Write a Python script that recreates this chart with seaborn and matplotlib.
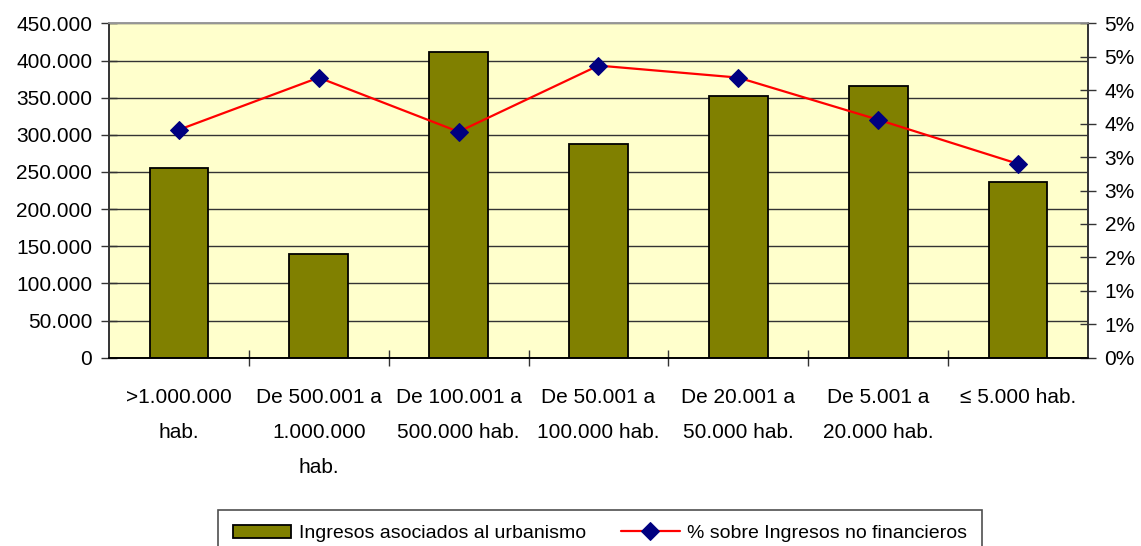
import math
import numpy as np
import pandas as pd
import seaborn as sns
import matplotlib.pyplot as plt
from matplotlib.ticker import FixedLocator, FuncFormatter

categorias = [">1.000.000\nhab.", "De 500.001 a\n1.000.000\nhab.", "De 100.001 a\n500.000 hab.",
              "De 50.001 a\n100.000 hab.", "De 20.001 a\n50.000 hab.", "De 5.001 a\n20.000 hab.",
              "\u2264 5.000 hab."]
ingresos = [256000, 140000, 412000, 288000, 353000, 366000, 237000]
porcentaje = [3.41, 4.19, 3.38, 4.37, 4.19, 3.56, 2.90]

sns.set_theme(style="white")
plt.rcParams['font.family'] = ['Liberation Sans', 'DejaVu Sans']
plt.rcParams['text.color'] = 'black'
plt.rcParams['xtick.color'] = 'black'
plt.rcParams['ytick.color'] = 'black'

df = pd.DataFrame({'cat': categorias, 'ingresos': ingresos, 'pct': porcentaje})

fig = plt.figure(figsize=(11.41, 5.46), dpi=100)
ax = fig.add_axes([0.0955, 0.345, 0.858, 0.612])
ax.set_facecolor('#FFFFCC')

sns.barplot(data=df, x='cat', y='ingresos', color='#808000', width=0.42,
            edgecolor='black', linewidth=1.3, saturation=1, ax=ax)
ax.set_xlim(-0.5, 6.5)
ax.set_ylim(0, 450000)
ax.set_yticks(np.arange(0, 450001, 50000))
ax.yaxis.set_major_formatter(FuncFormatter(lambda v, p: f"{int(v):,}".replace(',', '.')))
ax.yaxis.grid(True, color='#333333', linewidth=1.0)
ax.set_axisbelow(True)
ax.set_xlabel('')
ax.set_ylabel('')
ax.tick_params(axis='y', direction='inout', length=12, width=1, color='#333333',
               labelsize=15, pad=6, left=True, labelcolor='black')
ax.tick_params(axis='x', which='major', length=0, labelsize=15, pad=22, labelcolor='black')
ax.xaxis.set_minor_locator(FixedLocator(np.arange(0.5, 6.5, 1)))
ax.tick_params(axis='x', which='minor', direction='inout', length=12, width=1,
               color='#333333', bottom=True)
for t in ax.get_xticklabels():
    t.set_linespacing(2.05)

ax2 = ax.twinx()
sns.lineplot(x=np.arange(len(porcentaje)), y=porcentaje, color='red', linewidth=1.6,
             marker='D', markersize=9, markerfacecolor='#000080', markeredgecolor='#000080',
             ax=ax2, legend=False)
ax2.set_ylim(0, 5)
ax2.set_yticks(np.arange(0, 5.01, 0.5))
ax2.yaxis.set_major_formatter(FuncFormatter(lambda v, p: f"{math.floor(v + 0.5 + 1e-9)}%"))
ax2.tick_params(axis='y', direction='inout', length=12, width=1, color='#333333',
                labelsize=15, pad=6, right=True, labelcolor='black')
ax2.set_ylabel('')

for a in (ax, ax2):
    for s in a.spines.values():
        s.set_linewidth(1.2)
    a.spines['left'].set_color('#333333')
    a.spines['right'].set_color('#333333')
    a.spines['bottom'].set_color('black')
    a.spines['top'].set_color('#999999')

handles = [ax.patches[0], ax2.lines[0]]
labels = ['Ingresos asociados al urbanismo', '% sobre Ingresos no financieros']
leg = fig.legend(handles, labels, loc='upper center', bbox_to_anchor=(0.526, 0.066),
                 ncol=2, fontsize=14, frameon=True, fancybox=False, edgecolor='#222222',
                 handlelength=3.0, handletextpad=0.4, columnspacing=1.8,
                 borderpad=0.75, borderaxespad=0)
leg.get_frame().set_linewidth(1.2)

fig.savefig('out.png', dpi=100)
